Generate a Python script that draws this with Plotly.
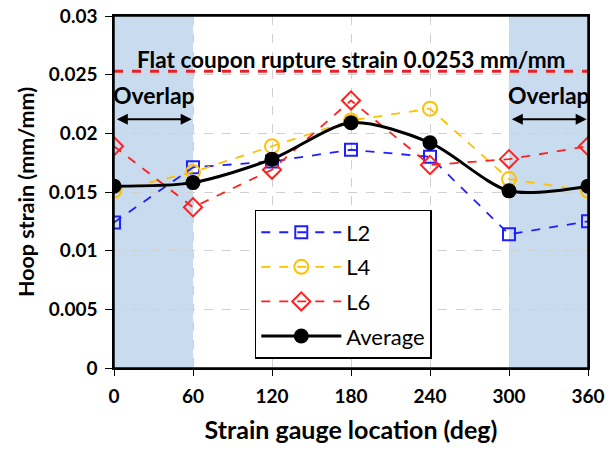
import plotly.graph_objects as go

angles = [0, 60, 120, 180, 240, 300, 360]
L2 = [0.0124, 0.0171, 0.0176, 0.0186, 0.0180, 0.0114, 0.0125]
L4 = [0.0151, 0.0167, 0.0189, 0.0211, 0.0221, 0.0161, 0.0151]
L6 = [0.0189, 0.0137, 0.0169, 0.0228, 0.0173, 0.0178, 0.0189]
avg = [0.0155, 0.0158, 0.0178, 0.0209, 0.0192, 0.0151, 0.0155]
rupture = 0.0253
overlap_zones = [(0, 60), (300, 360)]
ytick_vals = [0, 0.005, 0.01, 0.015, 0.02, 0.025, 0.03]
ytick_text = ["0", "0.005", "0.01", "0.015", "0.02", "0.025", "0.03"]

FONT = "Lato"
fig = go.Figure()

fig.add_trace(go.Scatter(x=angles, y=L2, name="L2", mode="lines+markers", legendgroup="a",
                         line=dict(color="#1f1fff", dash="dash", width=1.8),
                         marker=dict(symbol="square-open", size=12, color="#1f1fff", line=dict(width=2))))
fig.add_trace(go.Scatter(x=angles, y=L4, name="L4", mode="lines+markers", legendgroup="b",
                         line=dict(color="#ffc000", dash="dash", width=1.8),
                         marker=dict(symbol="circle-open", size=14, color="#ffc000", line=dict(width=2))))
fig.add_trace(go.Scatter(x=angles, y=L6, name="L6", mode="lines+markers", legendgroup="c",
                         line=dict(color="#ff2020", dash="dash", width=1.8),
                         marker=dict(symbol="diamond-open", size=14, color="#ff2020", line=dict(width=2))))
fig.add_trace(go.Scatter(x=angles, y=avg, name="Average", mode="lines+markers", legendgroup="d",
                         line=dict(color="black", width=3, shape="spline", smoothing=0.8),
                         marker=dict(symbol="circle", size=15, color="black")))

shapes = []
for x0, x1 in overlap_zones:
    shapes.append(dict(type="rect", xref="x", yref="y", x0=x0, x1=x1, y0=0, y1=0.03,
                       fillcolor="#c9dcef", line=dict(width=0), layer="below"))
shapes.append(dict(type="line", xref="x", yref="y", x0=0, x1=360, y0=rupture, y1=rupture,
                   line=dict(color="#e8202a", width=3, dash="dash")))
shapes.append(dict(type="rect", xref="paper", yref="paper", x0=0, x1=1, y0=0, y1=1,
                   line=dict(color="black", width=1.5), fillcolor="rgba(0,0,0,0)", layer="above"))
fig.update_layout(shapes=shapes)

ann = [dict(x=180, y=0.0263, xref="x", yref="y", text="<b>Flat coupon rupture strain 0.0253 mm/mm</b>",
            showarrow=False, font=dict(family=FONT, size=22.6, color="black"))]
for x0, x1 in overlap_zones:
    ann.append(dict(x=(x0 + x1) / 2, y=0.0233, xref="x", yref="y", text="<b>Overlap</b>",
                    showarrow=False, font=dict(family=FONT, size=23, color="black")))
    ann.append(dict(x=x1 - 1, y=0.0212, ax=x0 + 1, ay=0.0212, xref="x", yref="y", axref="x", ayref="y",
                    text="", showarrow=True, arrowhead=2, startarrowhead=2, arrowside="end+start",
                    arrowwidth=2.2, arrowsize=1, startarrowsize=1, arrowcolor="black"))
fig.update_layout(annotations=ann)

fig.update_layout(
    width=610, height=450,
    margin=dict(l=114, r=22, t=16, b=82),
    paper_bgcolor="white", plot_bgcolor="rgba(0,0,0,0)",
    font=dict(family=FONT, size=19, color="black"),
    xaxis=dict(range=[0, 360], tickvals=angles, ticktext=[f"<b>{a}</b>" for a in angles],
               showgrid=True, gridcolor="#d0d0d0", griddash="dash", gridwidth=1,
               ticks="outside", ticklen=6, tickcolor="black", showline=True, linecolor="black",
               linewidth=1.5, mirror=True, zeroline=False, automargin=False, ticklabelstandoff=4,
               ticklabeloverflow="allow",
               title=dict(text="<b>Strain gauge location (deg)</b>", font=dict(size=25), standoff=16)),
    yaxis=dict(range=[0, 0.03], tickvals=ytick_vals, ticktext=[f"<b>{t}</b>" for t in ytick_text],
               showgrid=True, gridcolor="#d0d0d0", griddash="dash", gridwidth=1,
               ticks="outside", ticklen=7, tickcolor="black", showline=True, linecolor="black",
               linewidth=1.5, mirror=True, zeroline=False, automargin=False, ticklabelstandoff=4,
               ticklabeloverflow="allow",
               title=dict(text="<b>Hoop strain (mm/mm)</b>", font=dict(size=21.5), standoff=8)),
    legend=dict(x=0.297, y=0.449, xanchor="left", yanchor="top", bgcolor="white",
                bordercolor="black", borderwidth=1.5, font=dict(family=FONT, size=22),
                tracegroupgap=3, traceorder="grouped", itemsizing="trace", itemwidth=80),
    showlegend=True,
)

fig.write_html("out.html", config={"displayModeBar": False},
               post_script="document.body.style.margin='0';document.body.style.overflow='hidden';")
